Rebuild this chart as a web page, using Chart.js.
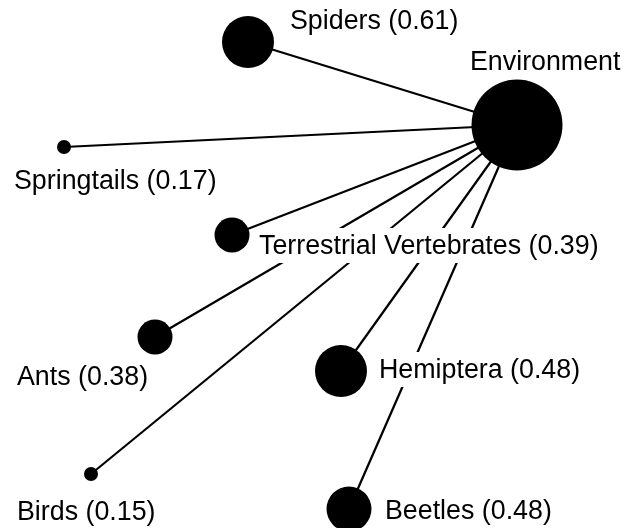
<!DOCTYPE html>
<html>
<head>
<meta charset="utf-8">
<script src="https://cdn.jsdelivr.net/npm/chart.js@4.4.1/dist/chart.umd.min.js"></script>
<style>
  html, body { margin: 0; padding: 0; background: #fff; }
  #wrap { width: 636px; height: 528px; position: relative; }
</style>
</head>
<body>
<div id="wrap"><canvas id="netChart"></canvas></div>
<script>
// hub node
const hubName = "Environment";
const hubX = 517;
const hubY = 125;
const hubR = 45.5;

// taxa linked to the hub, with their values
const taxa = ["Spiders", "Springtails", "Terrestrial Vertebrates", "Ants", "Hemiptera", "Beetles", "Birds"];
const weights = [0.61, 0.17, 0.39, 0.38, 0.48, 0.48, 0.15];
const nodeX = [248, 64, 232, 155, 341, 349, 91];
const nodeY = [42, 147, 235, 337, 371, 509, 474];
const nodeR = [26, 7, 17.5, 17.5, 26, 22.5, 7];

// label placement relative to each node (left edge / baseline)
const labelDx = [42, -50, 27, -138, 38, 36, -74];
const labelDy = [-13, 42, 19, 48, 7, 10, 46];
const hubLabelDx = -47;
const hubLabelDy = -55;

const FONT = '26.8px "Liberation Sans", Arial, sans-serif';

const edgeSets = taxa.map((t, i) => ({
  type: 'line',
  label: t,
  data: [{ x: hubX, y: hubY }, { x: nodeX[i], y: nodeY[i] }],
  borderColor: '#000',
  borderWidth: 2.2,
  pointRadius: 0,
  fill: false,
  clip: false
}));

const nodeSet = {
  type: 'bubble',
  label: 'nodes',
  data: [{ x: hubX, y: hubY, r: hubR }].concat(taxa.map((t, i) => ({ x: nodeX[i], y: nodeY[i], r: nodeR[i] }))),
  backgroundColor: '#000',
  borderColor: '#000',
  borderWidth: 0,
  clip: false
};

const labelPlugin = {
  id: 'nodeLabels',
  afterDatasetsDraw(c) {
    const ctx = c.ctx;
    const meta = c.getDatasetMeta(c.data.datasets.length - 1);
    ctx.save();
    ctx.font = FONT;
    ctx.textBaseline = 'alphabetic';
    ctx.textAlign = 'left';
    const items = [{ text: hubName, el: meta.data[0], dx: hubLabelDx, dy: hubLabelDy }];
    taxa.forEach((t, i) => {
      items.push({ text: t + ' (' + weights[i].toFixed(2) + ')', el: meta.data[i + 1], dx: labelDx[i], dy: labelDy[i] });
    });
    items.forEach(it => {
      const x = it.el.x + it.dx;
      const y = it.el.y + it.dy;
      const w = ctx.measureText(it.text).width;
      ctx.fillStyle = '#fff';
      ctx.fillRect(x - 2, y - 26, w + 4, 35);
      ctx.fillStyle = '#000';
      ctx.fillText(it.text, x, y);
    });
    ctx.restore();
  }
};

new Chart(document.getElementById('netChart'), {
  type: 'bubble',
  data: { datasets: edgeSets.concat([nodeSet]) },
  options: {
    responsive: true,
    maintainAspectRatio: false,
    animation: false,
    layout: { padding: 0, autoPadding: false },
    plugins: { legend: { display: false }, tooltip: { enabled: false } },
    scales: {
      x: { type: 'linear', min: 0, max: 636, display: false },
      y: { type: 'linear', min: 0, max: 528, reverse: true, display: false }
    }
  },
  plugins: [labelPlugin]
});
</script>
</body>
</html>
